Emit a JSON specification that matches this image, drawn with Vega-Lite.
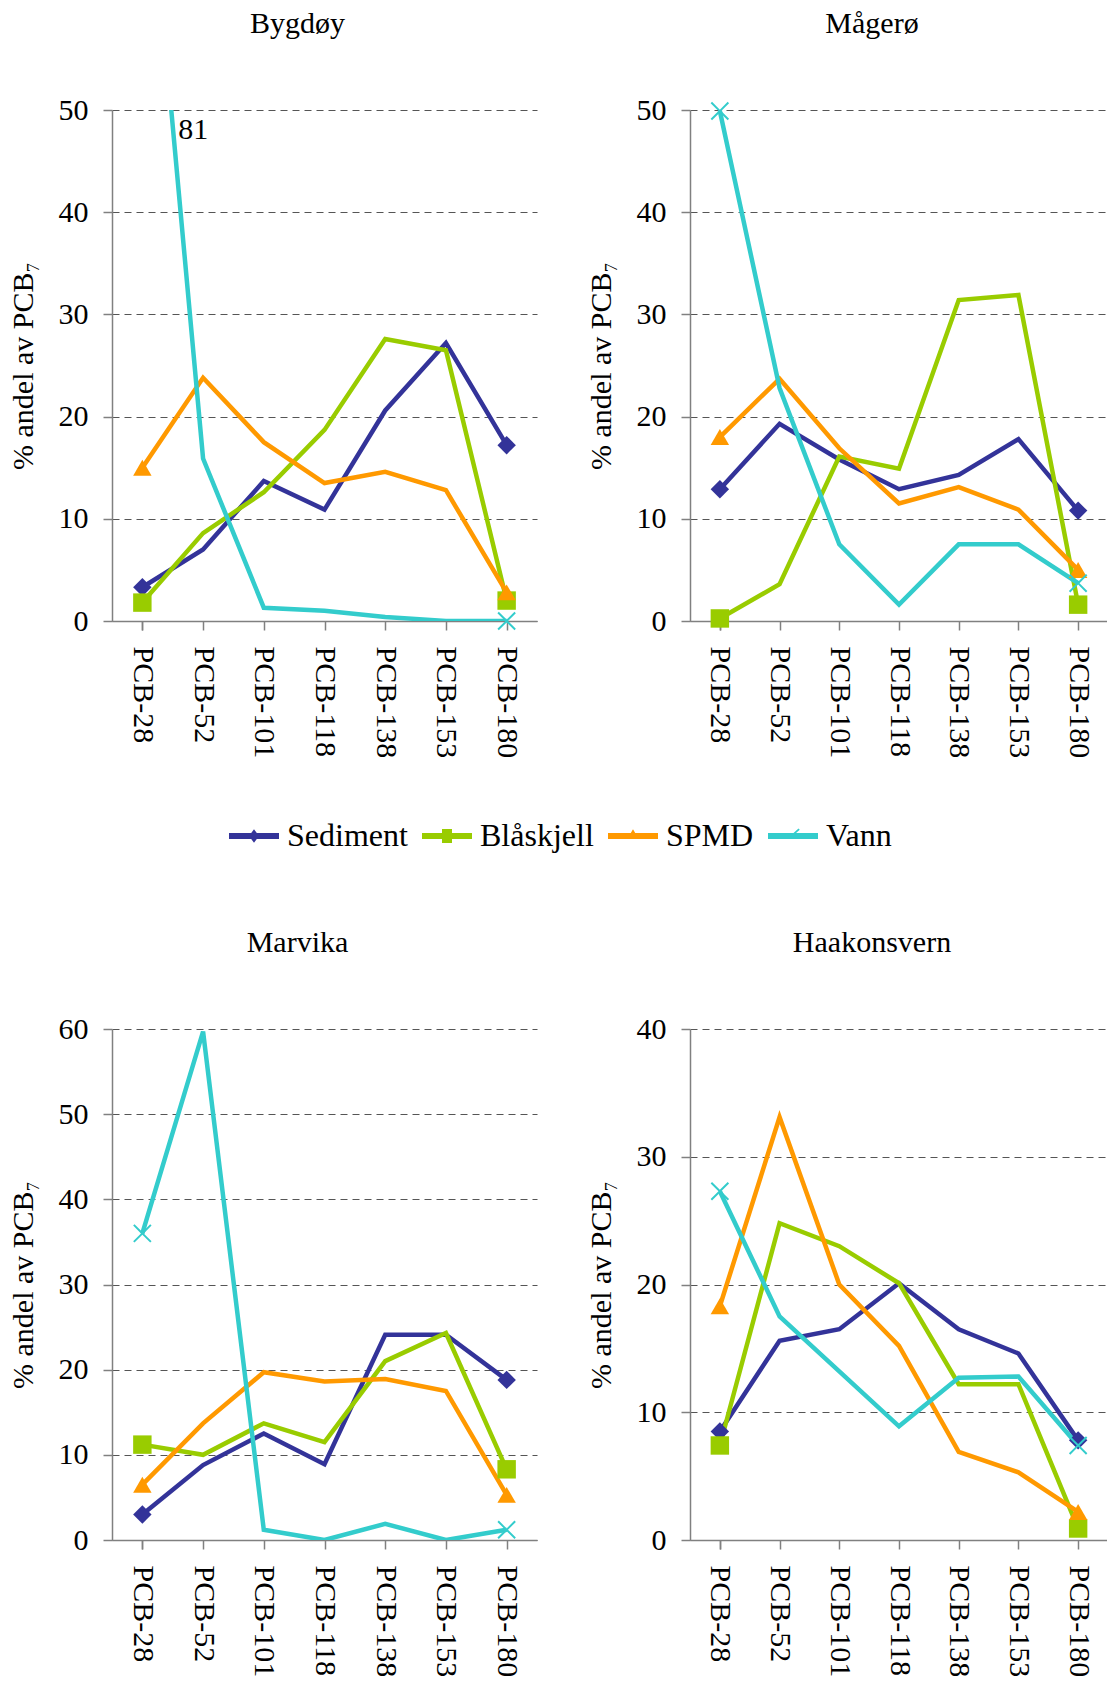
{
"$schema": "https://vega.github.io/schema/vega-lite/v6.json",
"padding": {"left": 8, "top": 9, "right": 0, "bottom": 0},
"datasets": {"pcb": [
{"site":"Bygdøy","series":"Sediment","congener":"PCB-28","idx":0,"value":3.3},
{"site":"Bygdøy","series":"Sediment","congener":"PCB-52","idx":1,"value":7.0},
{"site":"Bygdøy","series":"Sediment","congener":"PCB-101","idx":2,"value":13.7},
{"site":"Bygdøy","series":"Sediment","congener":"PCB-118","idx":3,"value":10.9},
{"site":"Bygdøy","series":"Sediment","congener":"PCB-138","idx":4,"value":20.6},
{"site":"Bygdøy","series":"Sediment","congener":"PCB-153","idx":5,"value":27.2},
{"site":"Bygdøy","series":"Sediment","congener":"PCB-180","idx":6,"value":17.2},
{"site":"Bygdøy","series":"Blåskjell","congener":"PCB-28","idx":0,"value":1.8},
{"site":"Bygdøy","series":"Blåskjell","congener":"PCB-52","idx":1,"value":8.6},
{"site":"Bygdøy","series":"Blåskjell","congener":"PCB-101","idx":2,"value":12.6},
{"site":"Bygdøy","series":"Blåskjell","congener":"PCB-118","idx":3,"value":18.7},
{"site":"Bygdøy","series":"Blåskjell","congener":"PCB-138","idx":4,"value":27.6},
{"site":"Bygdøy","series":"Blåskjell","congener":"PCB-153","idx":5,"value":26.5},
{"site":"Bygdøy","series":"Blåskjell","congener":"PCB-180","idx":6,"value":2.0},
{"site":"Bygdøy","series":"SPMD","congener":"PCB-28","idx":0,"value":15.0},
{"site":"Bygdøy","series":"SPMD","congener":"PCB-52","idx":1,"value":23.8},
{"site":"Bygdøy","series":"SPMD","congener":"PCB-101","idx":2,"value":17.5},
{"site":"Bygdøy","series":"SPMD","congener":"PCB-118","idx":3,"value":13.5},
{"site":"Bygdøy","series":"SPMD","congener":"PCB-138","idx":4,"value":14.6},
{"site":"Bygdøy","series":"SPMD","congener":"PCB-153","idx":5,"value":12.8},
{"site":"Bygdøy","series":"SPMD","congener":"PCB-180","idx":6,"value":2.8},
{"site":"Bygdøy","series":"Vann","congener":"PCB-28","idx":0,"value":81},
{"site":"Bygdøy","series":"Vann","congener":"PCB-52","idx":1,"value":15.9},
{"site":"Bygdøy","series":"Vann","congener":"PCB-101","idx":2,"value":1.3},
{"site":"Bygdøy","series":"Vann","congener":"PCB-118","idx":3,"value":1.0},
{"site":"Bygdøy","series":"Vann","congener":"PCB-138","idx":4,"value":0.4},
{"site":"Bygdøy","series":"Vann","congener":"PCB-153","idx":5,"value":0.0},
{"site":"Bygdøy","series":"Vann","congener":"PCB-180","idx":6,"value":0.0},
{"site":"Mågerø","series":"Sediment","congener":"PCB-28","idx":0,"value":12.9},
{"site":"Mågerø","series":"Sediment","congener":"PCB-52","idx":1,"value":19.3},
{"site":"Mågerø","series":"Sediment","congener":"PCB-101","idx":2,"value":15.8},
{"site":"Mågerø","series":"Sediment","congener":"PCB-118","idx":3,"value":12.9},
{"site":"Mågerø","series":"Sediment","congener":"PCB-138","idx":4,"value":14.3},
{"site":"Mågerø","series":"Sediment","congener":"PCB-153","idx":5,"value":17.8},
{"site":"Mågerø","series":"Sediment","congener":"PCB-180","idx":6,"value":10.8},
{"site":"Mågerø","series":"Blåskjell","congener":"PCB-28","idx":0,"value":0.25},
{"site":"Mågerø","series":"Blåskjell","congener":"PCB-52","idx":1,"value":3.6},
{"site":"Mågerø","series":"Blåskjell","congener":"PCB-101","idx":2,"value":16.1},
{"site":"Mågerø","series":"Blåskjell","congener":"PCB-118","idx":3,"value":14.9},
{"site":"Mågerø","series":"Blåskjell","congener":"PCB-138","idx":4,"value":31.4},
{"site":"Mågerø","series":"Blåskjell","congener":"PCB-153","idx":5,"value":31.9},
{"site":"Mågerø","series":"Blåskjell","congener":"PCB-180","idx":6,"value":1.6},
{"site":"Mågerø","series":"SPMD","congener":"PCB-28","idx":0,"value":18.0},
{"site":"Mågerø","series":"SPMD","congener":"PCB-52","idx":1,"value":23.7},
{"site":"Mågerø","series":"SPMD","congener":"PCB-101","idx":2,"value":16.9},
{"site":"Mågerø","series":"SPMD","congener":"PCB-118","idx":3,"value":11.5},
{"site":"Mågerø","series":"SPMD","congener":"PCB-138","idx":4,"value":13.1},
{"site":"Mågerø","series":"SPMD","congener":"PCB-153","idx":5,"value":10.9},
{"site":"Mågerø","series":"SPMD","congener":"PCB-180","idx":6,"value":5.0},
{"site":"Mågerø","series":"Vann","congener":"PCB-28","idx":0,"value":49.9},
{"site":"Mågerø","series":"Vann","congener":"PCB-52","idx":1,"value":22.8},
{"site":"Mågerø","series":"Vann","congener":"PCB-101","idx":2,"value":7.5},
{"site":"Mågerø","series":"Vann","congener":"PCB-118","idx":3,"value":1.6},
{"site":"Mågerø","series":"Vann","congener":"PCB-138","idx":4,"value":7.5},
{"site":"Mågerø","series":"Vann","congener":"PCB-153","idx":5,"value":7.5},
{"site":"Mågerø","series":"Vann","congener":"PCB-180","idx":6,"value":3.7},
{"site":"Marvika","series":"Sediment","congener":"PCB-28","idx":0,"value":3.0},
{"site":"Marvika","series":"Sediment","congener":"PCB-52","idx":1,"value":8.8},
{"site":"Marvika","series":"Sediment","congener":"PCB-101","idx":2,"value":12.5},
{"site":"Marvika","series":"Sediment","congener":"PCB-118","idx":3,"value":8.9},
{"site":"Marvika","series":"Sediment","congener":"PCB-138","idx":4,"value":24.1},
{"site":"Marvika","series":"Sediment","congener":"PCB-153","idx":5,"value":24.1},
{"site":"Marvika","series":"Sediment","congener":"PCB-180","idx":6,"value":18.8},
{"site":"Marvika","series":"Blåskjell","congener":"PCB-28","idx":0,"value":11.2},
{"site":"Marvika","series":"Blåskjell","congener":"PCB-52","idx":1,"value":10.0},
{"site":"Marvika","series":"Blåskjell","congener":"PCB-101","idx":2,"value":13.7},
{"site":"Marvika","series":"Blåskjell","congener":"PCB-118","idx":3,"value":11.5},
{"site":"Marvika","series":"Blåskjell","congener":"PCB-138","idx":4,"value":21.0},
{"site":"Marvika","series":"Blåskjell","congener":"PCB-153","idx":5,"value":24.3},
{"site":"Marvika","series":"Blåskjell","congener":"PCB-180","idx":6,"value":8.3},
{"site":"Marvika","series":"SPMD","congener":"PCB-28","idx":0,"value":6.5},
{"site":"Marvika","series":"SPMD","congener":"PCB-52","idx":1,"value":13.7},
{"site":"Marvika","series":"SPMD","congener":"PCB-101","idx":2,"value":19.7},
{"site":"Marvika","series":"SPMD","congener":"PCB-118","idx":3,"value":18.6},
{"site":"Marvika","series":"SPMD","congener":"PCB-138","idx":4,"value":18.9},
{"site":"Marvika","series":"SPMD","congener":"PCB-153","idx":5,"value":17.5},
{"site":"Marvika","series":"SPMD","congener":"PCB-180","idx":6,"value":5.3},
{"site":"Marvika","series":"Vann","congener":"PCB-28","idx":0,"value":36.0},
{"site":"Marvika","series":"Vann","congener":"PCB-52","idx":1,"value":59.7},
{"site":"Marvika","series":"Vann","congener":"PCB-101","idx":2,"value":1.2},
{"site":"Marvika","series":"Vann","congener":"PCB-118","idx":3,"value":0.0},
{"site":"Marvika","series":"Vann","congener":"PCB-138","idx":4,"value":1.9},
{"site":"Marvika","series":"Vann","congener":"PCB-153","idx":5,"value":0.0},
{"site":"Marvika","series":"Vann","congener":"PCB-180","idx":6,"value":1.2},
{"site":"Haakonsvern","series":"Sediment","congener":"PCB-28","idx":0,"value":8.5},
{"site":"Haakonsvern","series":"Sediment","congener":"PCB-52","idx":1,"value":15.6},
{"site":"Haakonsvern","series":"Sediment","congener":"PCB-101","idx":2,"value":16.5},
{"site":"Haakonsvern","series":"Sediment","congener":"PCB-118","idx":3,"value":20.1},
{"site":"Haakonsvern","series":"Sediment","congener":"PCB-138","idx":4,"value":16.5},
{"site":"Haakonsvern","series":"Sediment","congener":"PCB-153","idx":5,"value":14.6},
{"site":"Haakonsvern","series":"Sediment","congener":"PCB-180","idx":6,"value":7.8},
{"site":"Haakonsvern","series":"Blåskjell","congener":"PCB-28","idx":0,"value":7.4},
{"site":"Haakonsvern","series":"Blåskjell","congener":"PCB-52","idx":1,"value":24.8},
{"site":"Haakonsvern","series":"Blåskjell","congener":"PCB-101","idx":2,"value":23.0},
{"site":"Haakonsvern","series":"Blåskjell","congener":"PCB-118","idx":3,"value":20.1},
{"site":"Haakonsvern","series":"Blåskjell","congener":"PCB-138","idx":4,"value":12.2},
{"site":"Haakonsvern","series":"Blåskjell","congener":"PCB-153","idx":5,"value":12.2},
{"site":"Haakonsvern","series":"Blåskjell","congener":"PCB-180","idx":6,"value":0.9},
{"site":"Haakonsvern","series":"SPMD","congener":"PCB-28","idx":0,"value":18.3},
{"site":"Haakonsvern","series":"SPMD","congener":"PCB-52","idx":1,"value":33.1},
{"site":"Haakonsvern","series":"SPMD","congener":"PCB-101","idx":2,"value":20.0},
{"site":"Haakonsvern","series":"SPMD","congener":"PCB-118","idx":3,"value":15.2},
{"site":"Haakonsvern","series":"SPMD","congener":"PCB-138","idx":4,"value":6.9},
{"site":"Haakonsvern","series":"SPMD","congener":"PCB-153","idx":5,"value":5.3},
{"site":"Haakonsvern","series":"SPMD","congener":"PCB-180","idx":6,"value":2.2},
{"site":"Haakonsvern","series":"Vann","congener":"PCB-28","idx":0,"value":27.3},
{"site":"Haakonsvern","series":"Vann","congener":"PCB-52","idx":1,"value":17.5},
{"site":"Haakonsvern","series":"Vann","congener":"PCB-101","idx":2,"value":13.2},
{"site":"Haakonsvern","series":"Vann","congener":"PCB-118","idx":3,"value":8.9},
{"site":"Haakonsvern","series":"Vann","congener":"PCB-138","idx":4,"value":12.7},
{"site":"Haakonsvern","series":"Vann","congener":"PCB-153","idx":5,"value":12.8},
{"site":"Haakonsvern","series":"Vann","congener":"PCB-180","idx":6,"value":7.4}
]},
"config": {
  "font": "Liberation Serif",
  "view": {"stroke": null},
  "axis": {"labelFont": "Liberation Serif", "labelFontSize": 30, "labelColor": "black", "titleFont": "Liberation Serif", "titleFontSize": 30, "titleFontWeight": "normal", "titleColor": "black", "domainColor": "#808080", "tickColor": "#808080", "tickSize": 9, "domainWidth": 1.5, "tickWidth": 1.5},
  "axisX": {"labelAngle": 90, "labelPadding": 16, "tickBand": "extent", "grid": false},
  "axisY": {"grid": true, "gridDash": [7, 5], "gridColor": "#555555", "labelPadding": 15, "titlePadding": 20},
  "title": {"font": "Liberation Serif", "fontSize": 30, "fontWeight": "normal", "color": "black"}
},
"spacing": 170,
"vconcat": [
 {"spacing": 49, "hconcat": [
  {"width": 425, "height": 511,
   "title": {"text": "Bygdøy", "frame": "group", "dx": -27, "offset": 56},
   "data": {"name": "pcb"},
   "transform": [{"filter": "datum.site === 'Bygdøy'"}],
   "encoding": {
     "x": {"field": "congener", "type": "nominal", "sort": ["PCB-28","PCB-52","PCB-101","PCB-118","PCB-138","PCB-153","PCB-180"], "title": null, "axis": {"labelFont": "Liberation Serif", "labelFontSize": 30}},
     "y": {"field": "value", "type": "quantitative", "scale": {"domain": [0, 50], "nice": false}, "axis": {"values": [0,10,20,30,40,50], "title": "% andel av PCB₇", "labelFont": "Liberation Serif", "labelFontSize": 30, "titleFont": "Liberation Serif", "titleFontSize": 30}},
     "color": {"field": "series", "type": "nominal", "scale": {"domain": ["Sediment","Blåskjell","SPMD","Vann"], "range": ["#333399","#99CC00","#FF9900","#33CCCC"]},
       "legend": {"title": null, "orient": "none", "legendX": 117, "legendY": 701, "direction": "horizontal", "columns": 4, "labelFont": "Liberation Serif", "labelFontSize": 32, "labelColor": "black", "symbolSize": 2500, "symbolStrokeWidth": 0, "symbolOpacity": 1, "columnPadding": 14, "labelOffset": 8}}
   },
   "layer": [
     {"mark": {"type": "line", "strokeWidth": 4.5, "clip": true}, "encoding": {"order": {"field": "idx", "type": "quantitative"}}},
     {"transform": [{"filter": "datum.series === 'Nothing'"}],
      "mark": {"type": "point", "filled": true, "size": 340, "opacity": 1},
      "encoding": {"shape": {"field": "series", "type": "nominal", "scale": {"domain": ["Sediment","Blåskjell","SPMD","Vann"], "range": ["M-1,-0.12H1V0.12H-1Z M0,-0.27L0.2,0L0,0.27L-0.2,0Z","M-1,-0.12H1V0.12H-1Z M-0.2,-0.28H0.2V0.28H-0.2Z","M-1,-0.12H1V0.12H-1Z M0,-0.27L0.23,0.12L-0.23,0.12Z","M-1,-0.12H1V0.12H-1Z M0.02,-0.12L0.22,-0.3L0.27,-0.25L0.12,-0.12Z"]}, "legend": null}}},
     {"transform": [{"filter": "datum.series === 'Sediment' && (datum.idx == 0 || datum.idx == 6) && datum.value <= 50"}], "mark": {"type": "point", "filled": true, "size": 340, "opacity": 1, "shape": "diamond"}},
     {"transform": [{"filter": "datum.series === 'Blåskjell' && (datum.idx == 0 || datum.idx == 6) && datum.value <= 50"}], "mark": {"type": "point", "filled": true, "size": 340, "opacity": 1, "shape": "square"}},
     {"transform": [{"filter": "datum.series === 'SPMD' && (datum.idx == 0 || datum.idx == 6) && datum.value <= 50"}], "mark": {"type": "point", "filled": true, "size": 340, "opacity": 1, "shape": "triangle-up"}},
     {"transform": [{"filter": "datum.series === 'Vann' && (datum.idx == 0 || datum.idx == 6) && datum.value <= 50"}], "mark": {"type": "point", "filled": true, "size": 340, "opacity": 1, "shape": "M-1,-0.85L-0.85,-1L0,-0.15L0.85,-1L1,-0.85L0.15,0L1,0.85L0.85,1L0,0.15L-0.85,1L-1,0.85L-0.15,0Z"}},
     {"transform": [{"filter": "datum.value > 50"}],
      "mark": {"type": "text", "font": "Liberation Serif", "fontSize": 30, "dx": 51, "dy": 20, "align": "center", "baseline": "middle"},
      "encoding": {"y": {"datum": 50}, "text": {"field": "value", "type": "quantitative"}, "color": {"value": "black"}}}
   ]
  },
  {"width": 418, "height": 511,
   "title": {"text": "Mågerø", "frame": "group", "dx": -27, "offset": 56},
   "data": {"name": "pcb"},
   "transform": [{"filter": "datum.site === 'Mågerø'"}],
   "encoding": {
     "x": {"field": "congener", "type": "nominal", "sort": ["PCB-28","PCB-52","PCB-101","PCB-118","PCB-138","PCB-153","PCB-180"], "title": null, "axis": {"labelFont": "Liberation Serif", "labelFontSize": 30}},
     "y": {"field": "value", "type": "quantitative", "scale": {"domain": [0, 50], "nice": false}, "axis": {"values": [0,10,20,30,40,50], "title": "% andel av PCB₇", "labelFont": "Liberation Serif", "labelFontSize": 30, "titleFont": "Liberation Serif", "titleFontSize": 30}},
     "color": {"field": "series", "type": "nominal", "scale": {"domain": ["Sediment","Blåskjell","SPMD","Vann"], "range": ["#333399","#99CC00","#FF9900","#33CCCC"]}}
   },
   "layer": [
     {"mark": {"type": "line", "strokeWidth": 4.5, "clip": true}, "encoding": {"order": {"field": "idx", "type": "quantitative"}}},
     {"transform": [{"filter": "datum.series === 'Sediment' && (datum.idx == 0 || datum.idx == 6) && datum.value <= 50"}], "mark": {"type": "point", "filled": true, "size": 340, "opacity": 1, "shape": "diamond"}},
     {"transform": [{"filter": "datum.series === 'Blåskjell' && (datum.idx == 0 || datum.idx == 6) && datum.value <= 50"}], "mark": {"type": "point", "filled": true, "size": 340, "opacity": 1, "shape": "square"}},
     {"transform": [{"filter": "datum.series === 'SPMD' && (datum.idx == 0 || datum.idx == 6) && datum.value <= 50"}], "mark": {"type": "point", "filled": true, "size": 340, "opacity": 1, "shape": "triangle-up"}},
     {"transform": [{"filter": "datum.series === 'Vann' && (datum.idx == 0 || datum.idx == 6) && datum.value <= 50"}], "mark": {"type": "point", "filled": true, "size": 340, "opacity": 1, "shape": "M-1,-0.85L-0.85,-1L0,-0.15L0.85,-1L1,-0.85L0.15,0L1,0.85L0.85,1L0,0.15L-0.85,1L-1,0.85L-0.15,0Z"}}
   ]
  }
 ]},
 {"spacing": 49, "hconcat": [
  {"width": 425, "height": 511,
   "title": {"text": "Marvika", "frame": "group", "dx": -27, "offset": 56},
   "data": {"name": "pcb"},
   "transform": [{"filter": "datum.site === 'Marvika'"}],
   "encoding": {
     "x": {"field": "congener", "type": "nominal", "sort": ["PCB-28","PCB-52","PCB-101","PCB-118","PCB-138","PCB-153","PCB-180"], "title": null, "axis": {"labelFont": "Liberation Serif", "labelFontSize": 30}},
     "y": {"field": "value", "type": "quantitative", "scale": {"domain": [0, 60], "nice": false}, "axis": {"values": [0,10,20,30,40,50,60], "title": "% andel av PCB₇", "labelFont": "Liberation Serif", "labelFontSize": 30, "titleFont": "Liberation Serif", "titleFontSize": 30}},
     "color": {"field": "series", "type": "nominal", "scale": {"domain": ["Sediment","Blåskjell","SPMD","Vann"], "range": ["#333399","#99CC00","#FF9900","#33CCCC"]}}
   },
   "layer": [
     {"mark": {"type": "line", "strokeWidth": 4.5, "clip": true}, "encoding": {"order": {"field": "idx", "type": "quantitative"}}},
     {"transform": [{"filter": "datum.series === 'Sediment' && (datum.idx == 0 || datum.idx == 6) && datum.value <= 60"}], "mark": {"type": "point", "filled": true, "size": 340, "opacity": 1, "shape": "diamond"}},
     {"transform": [{"filter": "datum.series === 'Blåskjell' && (datum.idx == 0 || datum.idx == 6) && datum.value <= 60"}], "mark": {"type": "point", "filled": true, "size": 340, "opacity": 1, "shape": "square"}},
     {"transform": [{"filter": "datum.series === 'SPMD' && (datum.idx == 0 || datum.idx == 6) && datum.value <= 60"}], "mark": {"type": "point", "filled": true, "size": 340, "opacity": 1, "shape": "triangle-up"}},
     {"transform": [{"filter": "datum.series === 'Vann' && (datum.idx == 0 || datum.idx == 6) && datum.value <= 60"}], "mark": {"type": "point", "filled": true, "size": 340, "opacity": 1, "shape": "M-1,-0.85L-0.85,-1L0,-0.15L0.85,-1L1,-0.85L0.15,0L1,0.85L0.85,1L0,0.15L-0.85,1L-1,0.85L-0.15,0Z"}}
   ]
  },
  {"width": 418, "height": 511,
   "title": {"text": "Haakonsvern", "frame": "group", "dx": -27, "offset": 56},
   "data": {"name": "pcb"},
   "transform": [{"filter": "datum.site === 'Haakonsvern'"}],
   "encoding": {
     "x": {"field": "congener", "type": "nominal", "sort": ["PCB-28","PCB-52","PCB-101","PCB-118","PCB-138","PCB-153","PCB-180"], "title": null, "axis": {"labelFont": "Liberation Serif", "labelFontSize": 30}},
     "y": {"field": "value", "type": "quantitative", "scale": {"domain": [0, 40], "nice": false}, "axis": {"values": [0,10,20,30,40], "title": "% andel av PCB₇", "labelFont": "Liberation Serif", "labelFontSize": 30, "titleFont": "Liberation Serif", "titleFontSize": 30}},
     "color": {"field": "series", "type": "nominal", "scale": {"domain": ["Sediment","Blåskjell","SPMD","Vann"], "range": ["#333399","#99CC00","#FF9900","#33CCCC"]}}
   },
   "layer": [
     {"mark": {"type": "line", "strokeWidth": 4.5, "clip": true}, "encoding": {"order": {"field": "idx", "type": "quantitative"}}},
     {"transform": [{"filter": "datum.series === 'Sediment' && (datum.idx == 0 || datum.idx == 6) && datum.value <= 40"}], "mark": {"type": "point", "filled": true, "size": 340, "opacity": 1, "shape": "diamond"}},
     {"transform": [{"filter": "datum.series === 'Blåskjell' && (datum.idx == 0 || datum.idx == 6) && datum.value <= 40"}], "mark": {"type": "point", "filled": true, "size": 340, "opacity": 1, "shape": "square"}},
     {"transform": [{"filter": "datum.series === 'SPMD' && (datum.idx == 0 || datum.idx == 6) && datum.value <= 40"}], "mark": {"type": "point", "filled": true, "size": 340, "opacity": 1, "shape": "triangle-up"}},
     {"transform": [{"filter": "datum.series === 'Vann' && (datum.idx == 0 || datum.idx == 6) && datum.value <= 40"}], "mark": {"type": "point", "filled": true, "size": 340, "opacity": 1, "shape": "M-1,-0.85L-0.85,-1L0,-0.15L0.85,-1L1,-0.85L0.15,0L1,0.85L0.85,1L0,0.15L-0.85,1L-1,0.85L-0.15,0Z"}}
   ]
  }
 ]}
]
}
